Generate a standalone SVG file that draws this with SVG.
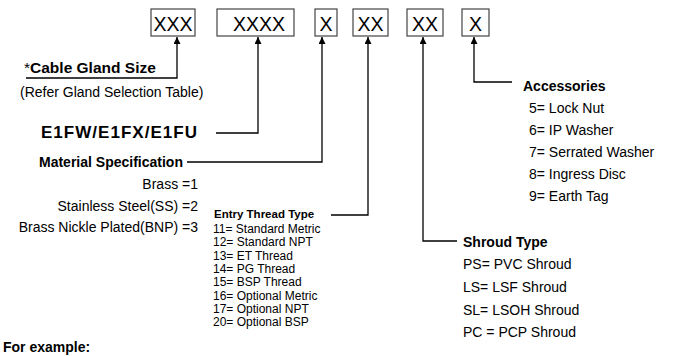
<svg xmlns="http://www.w3.org/2000/svg" width="685" height="356" viewBox="0 0 685 356">
<style>
text{font-family:"Liberation Sans",Arial,sans-serif;fill:#000}
.b{font-weight:bold}
.box{fill:#fff;stroke:#444;stroke-width:1.2}
.bx{font-size:19.5px;text-anchor:middle}
.c{fill:none;stroke:#000;stroke-width:1.3}
.t14{font-size:14px}
.t12{font-size:12px}
</style>
<defs>
<marker id="ah" viewBox="0 0 10 10" refX="10" refY="5" markerWidth="7" markerHeight="7" markerUnits="userSpaceOnUse" orient="auto">
<path d="M0,0 L10,5 L0,10 Z" fill="#000"/>
</marker>
</defs>
<rect width="685" height="356" fill="#fff"/>
<g id="boxes">
<g id="b1"><rect class="box" x="151" y="9" width="44" height="27"/><text class="bx" x="173" y="30.5">XXX</text></g>
<g id="b2"><rect class="box" x="217" y="9" width="77" height="27"/><text class="bx" x="259" y="30.5">XXXX</text></g>
<g id="b3"><rect class="box" x="315" y="9" width="22" height="27"/><text class="bx" x="326" y="30.5">X</text></g>
<g id="b4"><rect class="box" x="353" y="9" width="35" height="27"/><text class="bx" x="370.5" y="30.5">XX</text></g>
<g id="b5"><rect class="box" x="407" y="9" width="36" height="27"/><text class="bx" x="425" y="30.5">XX</text></g>
<g id="b6"><rect class="box" x="462" y="9" width="27" height="27"/><text class="bx" x="475.5" y="30.5">X</text></g>
</g>
<g id="connectors">
<path class="c" d="M26,78 H177 V37" marker-end="url(#ah)"/>
<path class="c" d="M216,133 H258 V37" marker-end="url(#ah)"/>
<path class="c" d="M187,162 H322 V37" marker-end="url(#ah)"/>
<path class="c" d="M331,215 H368 V37" marker-end="url(#ah)"/>
<path class="c" d="M457,241 H423 V37" marker-end="url(#ah)"/>
<path class="c" d="M512,82 H474 V37" marker-end="url(#ah)"/>
</g>
<g id="cable-gland-size">
<text x="24" y="73" style="font-size:15.5px"><tspan>*</tspan><tspan class="b">Cable Gland Size</tspan></text>
<text x="20" y="97" style="font-size:14px">(Refer Gland Selection Table)</text>
</g>
<g id="product-code">
<text class="b" x="41" y="138" style="font-size:17px" textLength="156">E1FW/E1FX/E1FU</text>
</g>
<g id="material">
<text class="b t14" x="39" y="167">Material Specification</text>
<text class="t14" x="198" y="189" text-anchor="end">Brass =1</text>
<text class="t14" x="198" y="211" text-anchor="end">Stainless Steel(SS) =2</text>
<text class="t14" x="198" y="232" text-anchor="end">Brass Nickle Plated(BNP) =3</text>
</g>
<g id="entry-thread">
<text class="b" x="214" y="218" style="font-size:11.5px">Entry Thread Type</text>
<text class="t12" x="213" y="233">11= Standard Metric</text>
<text class="t12" x="213" y="246.3">12= Standard NPT</text>
<text class="t12" x="213" y="259.6">13= ET Thread</text>
<text class="t12" x="213" y="272.9">14= PG Thread</text>
<text class="t12" x="213" y="286.2">15= BSP Thread</text>
<text class="t12" x="213" y="299.5">16= Optional Metric</text>
<text class="t12" x="213" y="312.8">17= Optional NPT</text>
<text class="t12" x="213" y="326.1">20= Optional BSP</text>
</g>
<g id="shroud">
<text class="b t14" x="463" y="247">Shroud Type</text>
<text class="t14" x="463" y="269">PS= PVC Shroud</text>
<text class="t14" x="463" y="292">LS= LSF Shroud</text>
<text class="t14" x="463" y="315">SL= LSOH Shroud</text>
<text class="t14" x="463" y="337">PC = PCP Shroud</text>
</g>
<g id="accessories">
<text class="b t14" x="523" y="91">Accessories</text>
<text class="t14" x="529" y="113">5= Lock Nut</text>
<text class="t14" x="529" y="135">6= IP Washer</text>
<text class="t14" x="529" y="157">7= Serrated Washer</text>
<text class="t14" x="529" y="179">8= Ingress Disc</text>
<text class="t14" x="529" y="201">9= Earth Tag</text>
</g>
<g id="example">
<text class="b" x="3" y="352" style="font-size:14px">For example:</text>
</g>
</svg>
